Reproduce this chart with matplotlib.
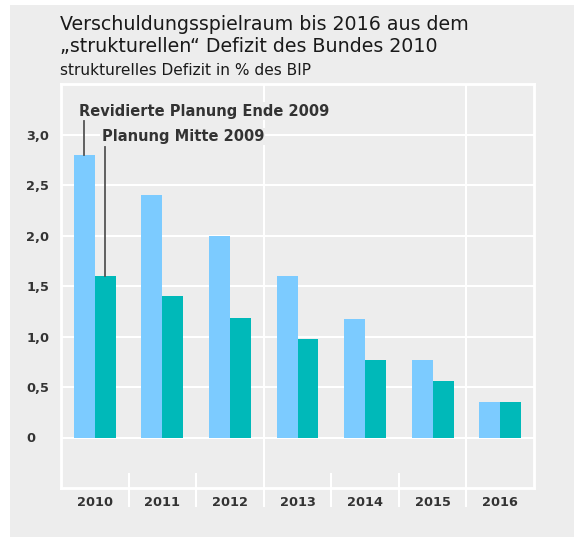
import matplotlib.pyplot as plt
import matplotlib.patches as mpatches
import numpy as np

plt.rcParams['font.family'] = ['DejaVu Sans']

# data
years = ['2010', '2011', '2012', '2013', '2014', '2015', '2016']
revidiert = [2.8, 2.4, 2.0, 1.6, 1.17, 0.77, 0.35]    # Revidierte Planung Ende 2009
mitte = [1.6, 1.4, 1.18, 0.98, 0.77, 0.56, 0.35]      # Planung Mitte 2009
yticks = [0, 0.5, 1.0, 1.5, 2.0, 2.5, 3.0]
ytick_labels = ['0', '0,5', '1,0', '1,5', '2,0', '2,5', '3,0']

bg = '#ededed'
light = '#7ccbff'
teal = '#00b9b9'
txt = '#333333'

fig = plt.figure(figsize=(5.74, 5.37), dpi=100, facecolor='white')
# gray panel behind everything
fig.patches.append(mpatches.Rectangle((10 / 574, 0), 1, 1 - 5 / 537,
                                      transform=fig.transFigure, facecolor=bg,
                                      edgecolor='none', zorder=-5))

ax = fig.add_axes([61 / 574, 1 - 488 / 537, 473 / 574, 404 / 537])
ax.set_facecolor(bg)

x = np.arange(len(years))
w = 0.31
ax.bar(x - w / 2, revidiert, w, color=light, zorder=3)
ax.bar(x + w / 2, mitte, w, color=teal, zorder=3)

ax.set_xlim(-0.5, len(years) - 0.5)
ax.set_ylim(-0.5, 3.5)

# white grid
for v in yticks:
    ax.axhline(v, color='white', lw=1.5, zorder=1)
for b in [2.5, 5.5]:
    ax.axvline(b, color='white', lw=1.5, zorder=1)
# short separators between year labels
for b in np.arange(0.5, len(years) - 0.5):
    ax.plot([b, b], [-0.36, -0.68], color='white', lw=1.5, clip_on=False, zorder=1)

for s in ax.spines.values():
    s.set_color('white')
    s.set_linewidth(2)

ax.set_yticks(yticks)
ax.set_yticklabels(ytick_labels)
ax.set_xticks(x)
ax.set_xticklabels(years)
ax.tick_params(length=0, colors=txt)
ax.tick_params(axis='x', pad=6, labelsize=9.3)
ax.tick_params(axis='y', pad=25, labelsize=9.3)
for lab in ax.get_yticklabels() + ax.get_xticklabels():
    lab.set_fontweight('bold')
for lab in ax.get_yticklabels():
    lab.set_horizontalalignment('left')

# legend-like callouts
ax.text(-0.23, 3.23, 'Revidierte Planung Ende 2009', fontsize=10.5, fontweight='bold',
        color=txt, va='center', ha='left', zorder=5,
        bbox=dict(facecolor=bg, edgecolor='none', pad=1))
ax.plot([-w / 2, -w / 2], [3.13, revidiert[0]], color='#555555', lw=1.3, zorder=4)
ax.text(0.10, 2.98, 'Planung Mitte 2009', fontsize=10.5, fontweight='bold',
        color=txt, va='center', ha='left', zorder=5,
        bbox=dict(facecolor=bg, edgecolor='none', pad=1))
ax.plot([w / 2, w / 2], [2.88, mitte[0]], color='#555555', lw=1.3, zorder=4)

fig.text(60 / 574, 1 - 30 / 537, 'Verschuldungsspielraum bis 2016 aus dem',
         fontsize=13.7, color='#1a1a1a', ha='left', va='baseline')
fig.text(60 / 574, 1 - 52 / 537, '\u201estrukturellen\u201c Defizit des Bundes 2010',
         fontsize=13.7, color='#1a1a1a', ha='left', va='baseline')
fig.text(60 / 574, 1 - 75 / 537, 'strukturelles Defizit in % des BIP', fontsize=11.1,
         color='#1a1a1a', ha='left', va='baseline')

fig.savefig('out.png', dpi=100, facecolor='white')
